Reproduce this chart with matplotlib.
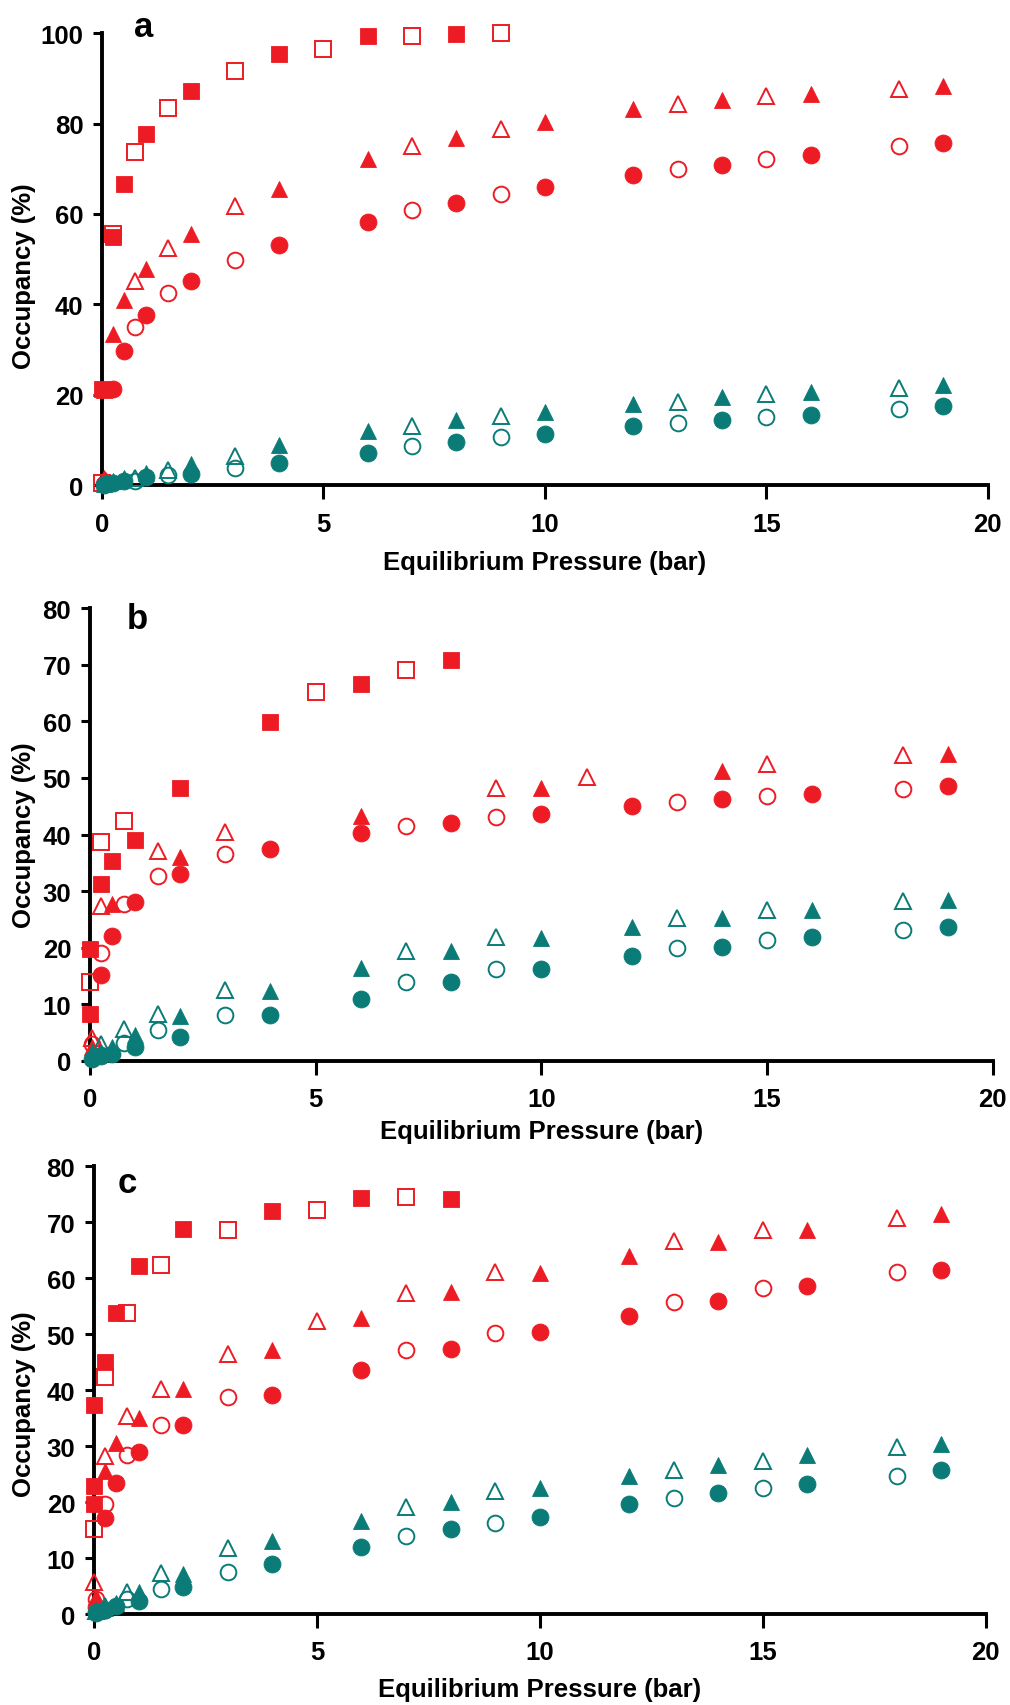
import matplotlib.pyplot as plt

plt.rcParams['font.family'] = ['Liberation Sans', 'DejaVu Sans']
plt.rcParams['font.weight'] = 'bold'

RED = '#ED1C24'
TEAL = '#0A7B77'

# ---- panel a ----
a_xf = [0.05, 0.25, 0.5, 1, 2, 4, 6, 8, 10, 12, 14, 16, 19]
a_xo = [0.1, 0.75, 1.5, 3, 7, 9, 13, 15, 18]
a_sqf_x = [0, 0.05, 0.25, 0.5, 1, 2, 4, 6, 8]
a_sqf_y = [21.2, 21.0, 55.0, 66.6, 77.6, 87.3, 95.4, 99.3, 99.8]
a_sqo_x = [0, 0.25, 0.75, 1.5, 3, 5, 7, 9]
a_sqo_y = [0.5, 55.5, 73.6, 83.4, 91.6, 96.4, 99.3, 100.0]
a_rtf = [1.5, 33.4, 40.9, 47.8, 55.5, 65.6, 72.1, 76.7, 80.3, 83.2, 85.1, 86.5, 88.2]
a_rto = [1.0, 45.2, 52.4, 61.8, 75.0, 78.8, 84.4, 86.0, 87.7]
a_rcf = [0.3, 21.2, 29.6, 37.7, 45.2, 53.1, 58.2, 62.5, 65.9, 68.6, 70.9, 73.1, 75.7]
a_rco = [0.5, 34.9, 42.5, 49.8, 60.8, 64.4, 70.0, 72.1, 75.0]
a_ttf = [0.3, 1.0, 1.5, 2.6, 4.6, 8.9, 12.0, 14.4, 16.3, 18.0, 19.5, 20.7, 22.1]
a_tto = [0.5, 1.5, 3.4, 6.5, 13.2, 15.4, 18.5, 20.2, 21.6]
a_tcf = [0.1, 0.5, 1.0, 1.8, 2.4, 5.0, 7.2, 9.6, 11.3, 13.0, 14.4, 15.6, 17.5]
a_tco = [0.2, 1.0, 2.2, 3.8, 8.7, 10.6, 13.7, 15.1, 16.8]

# ---- panel b ----
b_xf = [0.05, 0.25, 0.5, 1, 2, 4, 6, 8, 10, 12, 14, 16, 19]
b_xo = [0.25, 0.75, 1.5, 3, 7, 9, 13, 15, 18]
b_sqf_x = [0, 0, 0.25, 0.5, 1, 2, 4, 6, 8]
b_sqf_y = [8.3, 19.8, 31.3, 35.4, 39.0, 48.3, 59.8, 66.5, 70.8]
b_sqo_x = [0, 0.25, 0.75, 5, 7]
b_sqo_y = [14.0, 38.7, 42.3, 65.2, 69.0]
b_rtf_x = [0.05, 0.5, 2, 6, 10, 14, 19]
b_rtf_y = [2.5, 27.7, 36.0, 43.3, 48.3, 51.2, 54.2]
b_rto_x = [0.05, 0.25, 1.5, 3, 9, 11, 15, 18]
b_rto_y = [4.0, 27.3, 37.1, 40.4, 48.3, 50.2, 52.5, 54.0]
b_rcf_x = [0.25, 0.5, 1, 2, 4, 6, 8, 10, 12, 14, 16, 19]
b_rcf_y = [15.2, 22.1, 28.1, 33.1, 37.5, 40.2, 42.1, 43.7, 45.0, 46.2, 47.2, 48.5]
b_rco_x = [0.05, 0.25, 0.75, 1.5, 3, 7, 9, 13, 15, 18]
b_rco_y = [3.0, 19.0, 27.7, 32.7, 36.5, 41.5, 43.1, 45.7, 46.8, 48.1]
b_ttf = [1.5, 1.5, 2.5, 4.6, 7.9, 12.3, 16.5, 19.4, 21.7, 23.7, 25.2, 26.7, 28.5]
b_tto = [3.0, 5.6, 8.3, 12.5, 19.4, 21.9, 25.2, 26.7, 28.3]
b_tcf = [0.3, 0.8, 1.2, 2.4, 4.3, 8.2, 11.0, 14.0, 16.3, 18.5, 20.2, 21.9, 23.7]
b_tco = [1.0, 3.2, 5.4, 8.1, 14.0, 16.3, 20.0, 21.3, 23.1]

# ---- panel c ----
c_xf = [0.05, 0.25, 0.5, 1, 2, 4, 6, 8, 10, 12, 14, 16, 19]
c_xo = [0.05, 0.25, 0.75, 1.5, 3, 7, 9, 13, 15, 18]
c_sqf_x = [0, 0, 0, 0.25, 0.5, 1, 2, 4, 6, 8]
c_sqf_y = [37.3, 22.8, 19.7, 45.1, 53.8, 62.1, 68.8, 72.0, 74.3, 74.1]
c_sqo_x = [0, 0.25, 0.75, 1.5, 3, 5, 7]
c_sqo_y = [15.2, 42.4, 53.8, 62.3, 68.6, 72.2, 74.5]
c_rtf = [3.0, 25.6, 30.6, 35.0, 40.2, 47.2, 52.9, 57.6, 60.9, 64.0, 66.5, 68.7, 71.4]
c_rto_x = [0, 0.25, 0.75, 1.5, 3, 5, 7, 9, 13, 15, 18]
c_rto_y = [5.8, 28.3, 35.3, 40.2, 46.4, 52.3, 57.4, 61.1, 66.7, 68.7, 70.8]
c_rcf = [1.2, 17.2, 23.5, 29.0, 33.8, 39.2, 43.6, 47.3, 50.4, 53.3, 56.0, 58.6, 61.5]
c_rco = [2.7, 19.7, 28.5, 33.8, 38.7, 47.1, 50.2, 55.8, 58.2, 61.1]
c_ttf = [0.5, 1.0, 2.0, 3.9, 7.2, 13.0, 16.7, 20.0, 22.6, 24.7, 26.7, 28.4, 30.4]
c_tto = [0.5, 1.5, 4.0, 7.4, 11.8, 19.1, 22.0, 25.7, 27.4, 29.8]
c_tcf = [0.2, 0.7, 1.5, 2.3, 4.8, 9.0, 11.9, 15.2, 17.3, 19.7, 21.6, 23.3, 25.7]
c_tco = [0.3, 0.8, 2.7, 4.5, 7.5, 14.0, 16.3, 20.8, 22.6, 24.7]


def pts(ax, x, y, marker, color, filled):
    ax.plot(x, y, ls='none', marker=marker, ms=12.2 if filled else 11.3,
            mfc=color if filled else 'none', mec=color,
            mew=0.6 if filled else 1.4, clip_on=False, zorder=3)


def style(ax, ymax, ystep, letter, lpos, xlab_y, ylab_x, ylab_y):
    ax.set_xlim(0, 20)
    ax.set_ylim(0, ymax)
    ax.set_xticks(range(0, 21, 5))
    ax.set_yticks(range(0, ymax + 1, ystep))
    for s in ('top', 'right'):
        ax.spines[s].set_visible(False)
    for s in ('left', 'bottom'):
        ax.spines[s].set_linewidth(2.8)
    ax.tick_params(axis='x', direction='out', length=10, width=2.2, pad=9,
                   labelsize=18.5)
    ax.tick_params(axis='y', direction='out', length=6.5, width=2.2, pad=7,
                   labelsize=18.5)
    ax.set_xlabel('Equilibrium Pressure (bar)', fontsize=18.5, fontweight='bold')
    ax.xaxis.label.set_va('center')
    ax.xaxis.set_label_coords(0.5, xlab_y)
    ax.set_ylabel('Occupancy (%)', fontsize=18.5, fontweight='bold')
    ax.yaxis.label.set_va('center')
    ax.yaxis.set_label_coords(ylab_x, ylab_y)
    ax.text(lpos[0], lpos[1], letter, fontsize=25, fontweight='bold',
            ha='center', va='center', clip_on=False)


fig = plt.figure(figsize=(10.1, 17.06), dpi=100)
axa = fig.add_axes([0.101, 0.715, 0.877, 0.265])
axb = fig.add_axes([0.089, 0.3775, 0.894, 0.2655])
axc = fig.add_axes([0.093, 0.0533, 0.883, 0.2625])

# a
pts(axa, a_sqf_x, a_sqf_y, 's', RED, True)
pts(axa, a_sqo_x, a_sqo_y, 's', RED, False)
pts(axa, a_xf, a_rtf, '^', RED, True)
pts(axa, a_xo, a_rto, '^', RED, False)
pts(axa, a_xf, a_rcf, 'o', RED, True)
pts(axa, a_xo, a_rco, 'o', RED, False)
pts(axa, a_xf, a_ttf, '^', TEAL, True)
pts(axa, a_xo, a_tto, '^', TEAL, False)
pts(axa, a_xf, a_tcf, 'o', TEAL, True)
pts(axa, a_xo, a_tco, 'o', TEAL, False)
style(axa, 100, 20, 'a', (0.95, 101.5), -0.17, -0.088, 0.465)

# b
pts(axb, b_sqf_x, b_sqf_y, 's', RED, True)
pts(axb, b_sqo_x, b_sqo_y, 's', RED, False)
pts(axb, b_rtf_x, b_rtf_y, '^', RED, True)
pts(axb, b_rto_x, b_rto_y, '^', RED, False)
pts(axb, b_rcf_x, b_rcf_y, 'o', RED, True)
pts(axb, b_rco_x, b_rco_y, 'o', RED, False)
pts(axb, b_xf, b_ttf, '^', TEAL, True)
pts(axb, b_xo, b_tto, '^', TEAL, False)
pts(axb, b_xf, b_tcf, 'o', TEAL, True)
pts(axb, b_xo, b_tco, 'o', TEAL, False)
style(axb, 80, 10, 'b', (1.06, 78.2), -0.155, -0.073, 0.5)

# c
pts(axc, c_sqf_x, c_sqf_y, 's', RED, True)
pts(axc, c_sqo_x, c_sqo_y, 's', RED, False)
pts(axc, c_xf, c_rtf, '^', RED, True)
pts(axc, c_rto_x, c_rto_y, '^', RED, False)
pts(axc, c_xf, c_rcf, 'o', RED, True)
pts(axc, c_xo, c_rco, 'o', RED, False)
pts(axc, c_xf, c_ttf, '^', TEAL, True)
pts(axc, c_xo, c_tto, '^', TEAL, False)
pts(axc, c_xf, c_tcf, 'o', TEAL, True)
pts(axc, c_xo, c_tco, 'o', TEAL, False)
style(axc, 80, 10, 'c', (0.74, 77.1), -0.167, -0.078, 0.47)

fig.savefig('out.png', dpi=100)
